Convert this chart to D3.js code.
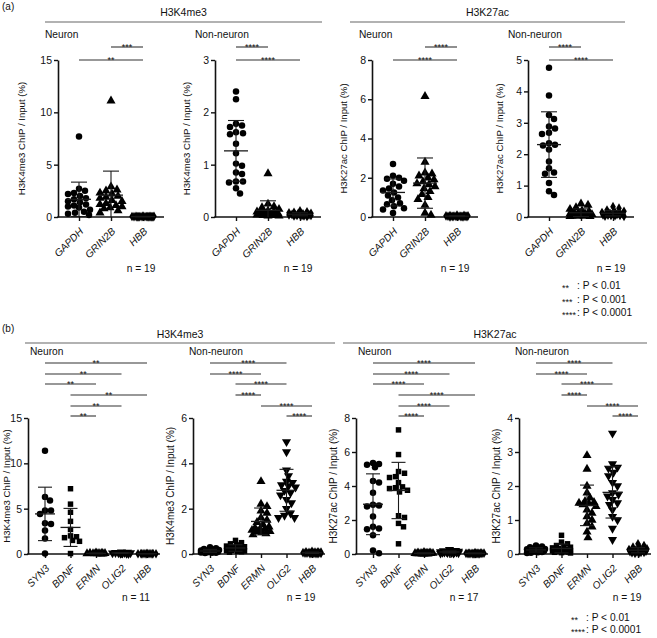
<!DOCTYPE html>
<html><head><meta charset="utf-8">
<script src="https://cdn.jsdelivr.net/npm/d3@7"></script>
<style>
body{margin:0;background:#fff}
svg{display:block}
text{font-family:"Liberation Sans",Arial,sans-serif;fill:#111}
</style>
</head><body>
<svg id="c" width="657" height="638"></svg>
<script>
// ---------------- data ----------------
const aCats = ["GAPDH", "GRIN2B", "HBB"];
const bCats = ["SYN3", "BDNF", "ERMN", "OLIG2", "HBB"];

const a1Ticks = [0, 5, 10, 15];
const a2Ticks = [0, 1, 2, 3];
const a3Ticks = [0, 2, 4, 6, 8];
const a4Ticks = [0, 1, 2, 3, 4, 5];
const b1Ticks = [0, 5, 10, 15];
const b2Ticks = [0, 2, 4, 6];
const b3Ticks = [0, 2, 4, 6, 8];
const b4Ticks = [0, 1, 2, 3, 4];

// (a) Neuron H3K4me3
const a1GAPDH = [7.7, 2.7, 2.5, 2.3, 2.2, 2.0, 1.8, 1.7, 1.5, 1.4, 1.2, 1.1, 1.0, 0.9, 0.7, 0.5, 0.4, 0.3, 0.2];
const a1GRIN2B = [11.1, 2.9, 2.6, 2.5, 2.3, 2.2, 2.0, 1.9, 1.8, 1.6, 1.5, 1.3, 1.2, 1.1, 1.0, 0.9, 0.8, 0.6, 0.4];
const a1HBB = [0.08, 0.07, 0.06, 0.06, 0.05, 0.05, 0.05, 0.04, 0.04, 0.04, 0.03, 0.03, 0.03, 0.03, 0.02, 0.02, 0.02, 0.01, 0.01];
// (a) Non-neuron H3K4me3
const a2GAPDH = [2.4, 2.25, 1.78, 1.75, 1.72, 1.62, 1.6, 1.58, 1.4, 1.22, 1.02, 0.98, 0.85, 0.82, 0.68, 0.68, 0.66, 0.55, 0.45];
const a2GRIN2B = [0.83, 0.25, 0.2, 0.18, 0.15, 0.12, 0.1, 0.1, 0.08, 0.07, 0.06, 0.05, 0.05, 0.04, 0.04, 0.03, 0.03, 0.02, 0.02];
const a2HBB = [0.12, 0.1, 0.09, 0.08, 0.07, 0.06, 0.06, 0.05, 0.05, 0.05, 0.04, 0.04, 0.04, 0.03, 0.03, 0.03, 0.02, 0.02, 0.01];
// (a) Neuron H3K27ac
const a3GAPDH = [2.7, 2.1, 2.0, 1.95, 1.85, 1.7, 1.55, 1.45, 1.35, 1.25, 1.1, 1.0, 0.85, 0.7, 0.65, 0.55, 0.45, 0.38, 0.2];
const a3GRIN2B = [6.15, 2.8, 2.25, 2.2, 2.1, 2.0, 1.9, 1.8, 1.7, 1.65, 1.55, 1.45, 1.3, 1.15, 1.0, 0.9, 0.6, 0.2, 0.1];
const a3HBB = [0.1, 0.08, 0.07, 0.06, 0.06, 0.05, 0.05, 0.05, 0.04, 0.04, 0.04, 0.03, 0.03, 0.03, 0.02, 0.02, 0.02, 0.01, 0.01];
// (a) Non-neuron H3K27ac
const a4GAPDH = [4.75, 3.87, 3.25, 3.12, 2.88, 2.82, 2.68, 2.64, 2.35, 2.3, 2.28, 2.15, 1.77, 1.55, 1.42, 1.38, 1.08, 0.82, 0.7];
const a4GRIN2B = [0.42, 0.38, 0.3, 0.25, 0.2, 0.18, 0.15, 0.12, 0.1, 0.1, 0.08, 0.07, 0.06, 0.05, 0.04, 0.03, 0.03, 0.02, 0.02];
const a4HBB = [0.33, 0.28, 0.22, 0.18, 0.16, 0.14, 0.13, 0.12, 0.11, 0.1, 0.09, 0.08, 0.07, 0.06, 0.05, 0.05, 0.04, 0.03, 0.02];

// (b) Neuron H3K4me3 (n = 11)
const b1SYN3 = [11.4, 6.3, 5.9, 4.8, 4.8, 4.4, 3.4, 3.3, 2.6, 1.7, 0.05];
const b1BDNF = [7.2, 5.5, 4.6, 3.6, 2.7, 2.0, 1.9, 1.8, 1.5, 1.4, 0.05];
const b1ERMN = [0.15, 0.12, 0.1, 0.08, 0.07, 0.06, 0.05, 0.04, 0.03, 0.02, 0.02];
const b1OLIG2 = [0.2, 0.18, 0.15, 0.14, 0.12, 0.1, 0.1, 0.08, 0.07, 0.05, 0.04];
const b1HBB = [0.06, 0.05, 0.05, 0.04, 0.04, 0.03, 0.03, 0.03, 0.02, 0.02, 0.01];
// (b) Non-neuron H3K4me3 (n = 19)
const b2SYN3 = [0.3, 0.25, 0.22, 0.2, 0.18, 0.16, 0.15, 0.14, 0.13, 0.12, 0.11, 0.1, 0.1, 0.09, 0.08, 0.07, 0.06, 0.05, 0.04];
const b2BDNF = [0.6, 0.5, 0.45, 0.4, 0.35, 0.32, 0.3, 0.28, 0.26, 0.24, 0.22, 0.2, 0.18, 0.16, 0.15, 0.13, 0.12, 0.1, 0.08];
const b2ERMN = [3.2, 2.2, 2.1, 1.9, 1.8, 1.6, 1.5, 1.4, 1.3, 1.2, 1.15, 1.1, 1.1, 1.05, 1.0, 1.0, 0.95, 0.9, 0.85];
const b2OLIG2 = [4.95, 4.5, 3.7, 3.45, 3.2, 3.15, 3.05, 3.0, 2.95, 2.8, 2.7, 2.6, 2.4, 2.25, 2.0, 1.8, 1.7, 1.6, 1.6];
const b2HBB = [0.12, 0.1, 0.09, 0.08, 0.08, 0.07, 0.06, 0.06, 0.05, 0.05, 0.05, 0.04, 0.04, 0.03, 0.03, 0.03, 0.02, 0.02, 0.01];
// (b) Neuron H3K27ac (n = 17)
const b3SYN3 = [5.35, 5.3, 5.25, 5.1, 4.3, 4.2, 3.6, 2.9, 2.85, 2.8, 2.2, 1.6, 1.5, 1.45, 1.1, 0.2, 0.05];
const b3BDNF = [7.3, 5.85, 4.85, 4.75, 4.55, 4.5, 4.2, 3.95, 3.9, 3.85, 3.75, 3.65, 2.25, 2.15, 1.8, 1.6, 0.6];
const b3ERMN = [0.1, 0.08, 0.07, 0.06, 0.05, 0.05, 0.04, 0.04, 0.03, 0.03, 0.03, 0.02, 0.02, 0.02, 0.01, 0.01, 0.01];
const b3OLIG2 = [0.25, 0.2, 0.18, 0.16, 0.15, 0.14, 0.13, 0.12, 0.11, 0.1, 0.1, 0.09, 0.08, 0.07, 0.06, 0.05, 0.04];
const b3HBB = [0.08, 0.07, 0.06, 0.05, 0.05, 0.04, 0.04, 0.04, 0.03, 0.03, 0.03, 0.02, 0.02, 0.02, 0.01, 0.01, 0.01];
// (b) Non-neuron H3K27ac (n = 19)
const b4SYN3 = [0.25, 0.22, 0.2, 0.18, 0.16, 0.15, 0.14, 0.13, 0.12, 0.11, 0.1, 0.1, 0.09, 0.08, 0.07, 0.06, 0.05, 0.04, 0.03];
const b4BDNF = [0.55, 0.35, 0.3, 0.25, 0.22, 0.2, 0.18, 0.16, 0.14, 0.12, 0.11, 0.1, 0.09, 0.08, 0.07, 0.06, 0.05, 0.04, 0.03];
const b4ERMN = [2.9, 2.5, 2.0, 1.8, 1.65, 1.55, 1.52, 1.5, 1.48, 1.45, 1.4, 1.3, 1.2, 1.1, 1.0, 0.9, 0.8, 0.65, 0.48];
const b4OLIG2 = [3.55, 2.65, 2.55, 2.52, 2.4, 2.3, 2.1, 2.0, 1.8, 1.75, 1.7, 1.6, 1.5, 1.45, 1.3, 1.1, 1.0, 0.75, 0.42];
const b4HBB = [0.3, 0.25, 0.2, 0.18, 0.15, 0.13, 0.12, 0.11, 0.1, 0.09, 0.08, 0.08, 0.07, 0.06, 0.05, 0.05, 0.04, 0.03, 0.02];

const aSig = [["GRIN2B", "HBB", "***"], ["GAPDH", "HBB", "**"]];
const aSig4 = [["GAPDH", "GRIN2B", "****"], ["GAPDH", "HBB", "****"]];
const aSig3 = [["GRIN2B", "HBB", "****"], ["GAPDH", "HBB", "****"]];
const bSigN1 = [["SYN3", "HBB", "**"], ["SYN3", "OLIG2", "**"], ["SYN3", "ERMN", "**"], ["BDNF", "HBB", "**"], ["BDNF", "OLIG2", "**"], ["BDNF", "ERMN", "**"]];
const bSigNN = [["SYN3", "OLIG2", "****"], ["SYN3", "ERMN", "****"], ["BDNF", "OLIG2", "****"], ["BDNF", "ERMN", "****"], ["ERMN", "HBB", "****"], ["OLIG2", "HBB", "****"]];
const bSigN3 = [["SYN3", "HBB", "****"], ["SYN3", "OLIG2", "****"], ["SYN3", "ERMN", "****"], ["BDNF", "HBB", "****"], ["BDNF", "OLIG2", "****"], ["BDNF", "ERMN", "****"]];

// ---------------- layout ----------------
const svg = d3.select("#c");
svg.append("rect").attr("width", 657).attr("height", 638).attr("fill", "#fff");

const symA = [d3.symbolCircle, d3.symbolTriangle, d3.symbolDiamond];
const symB = [d3.symbolCircle, d3.symbolSquare, d3.symbolTriangle, "down", d3.symbolDiamond];

const panels = [
  {x0: 58, top: 60, bot: 217, cats: aCats, data: [a1GAPDH, a1GRIN2B, a1HBB], ticks: a1Ticks, lab: "H3K4me3 ChIP / Input (%)", sub: "Neuron", n: "n = 19", sig: aSig, sigY: [47, 60], kind: "a"},
  {x0: 215, top: 60, bot: 217, cats: aCats, data: [a2GAPDH, a2GRIN2B, a2HBB], ticks: a2Ticks, lab: "H3K4me3 ChIP / Input (%)", sub: "Non-neuron", n: "n = 19", sig: aSig4, sigY: [47, 60], kind: "a"},
  {x0: 372, top: 60, bot: 217, cats: aCats, data: [a3GAPDH, a3GRIN2B, a3HBB], ticks: a3Ticks, lab: "H3K27ac ChIP / Input (%)", sub: "Neuron", n: "n = 19", sig: aSig3, sigY: [47, 60], kind: "a"},
  {x0: 528, top: 60, bot: 217, cats: aCats, data: [a4GAPDH, a4GRIN2B, a4HBB], ticks: a4Ticks, lab: "H3K27ac ChIP / Input (%)", sub: "Non-neuron", n: "n = 19", sig: aSig4, sigY: [47, 60], kind: "a"},
  {x0: 28, top: 418, bot: 554, cats: bCats, data: [b1SYN3, b1BDNF, b1ERMN, b1OLIG2, b1HBB], ticks: b1Ticks, lab: "H3K4me3 ChIP / Input (%)", sub: "Neuron", n: "n = 11", sig: bSigN1, sigY: [363, 374, 384, 395, 406, 416], kind: "b"},
  {x0: 193, top: 418, bot: 554, cats: bCats, data: [b2SYN3, b2BDNF, b2ERMN, b2OLIG2, b2HBB], ticks: b2Ticks, lab: "H3K4me3 ChIP / Input (%)", sub: "Non-neuron", n: "n = 19", sig: bSigNN, sigY: [363, 374, 384, 395, 406, 416], kind: "b"},
  {x0: 356, top: 418, bot: 554, cats: bCats, data: [b3SYN3, b3BDNF, b3ERMN, b3OLIG2, b3HBB], ticks: b3Ticks, lab: "H3K27ac ChIP / Input (%)", sub: "Neuron", n: "n = 17", sig: bSigN3, sigY: [363, 374, 384, 395, 406, 416], kind: "b"},
  {x0: 519, top: 418, bot: 554, cats: bCats, data: [b4SYN3, b4BDNF, b4ERMN, b4OLIG2, b4HBB], ticks: b4Ticks, lab: "H3K27ac ChIP / Input (%)", sub: "Non-neuron", n: "n = 19", sig: bSigNN, sigY: [363, 374, 384, 395, 406, 416], kind: "b"}
];

function swarm(vals, y, cx, r, maxOff) {
  const pts = vals.map(v => ({v: v, py: y(v)})).sort((a, b) => a.py - b.py);
  const placed = [];
  for (const p of pts) {
    let best = null, alt = cx, altD = -1;
    for (let k = 0; k <= 2 * maxOff; k++) {
      const off = (k % 2 ? 1 : -1) * Math.ceil(k / 2);
      const px = cx + off;
      let minD = Infinity;
      for (const q of placed) { const d = Math.hypot(q.px - px, q.py - p.py); if (d < minD) minD = d; }
      if (minD >= 2 * r) { best = px; break; }
      if (minD > altD) { altD = minD; alt = px; }
    }
    p.px = best !== null ? best : alt;
    placed.push(p);
  }
  return placed;
}

panels.forEach(P => {
  const isA = P.kind === "a";
  const g = svg.append("g");
  const ymax = P.ticks[P.ticks.length - 1];
  const y = d3.scaleLinear().domain([0, ymax]).range([P.bot, P.top]);
  const x = d3.scalePoint().domain(P.cats).range(isA ? [P.x0 + 21, P.x0 + 85] : [P.x0 + 17, P.x0 + 119]);
  const xEnd = isA ? P.x0 + 106 : P.x0 + 132;

  // y axis
  const ya = g.append("g").attr("transform", `translate(${P.x0},0)`)
    .call(d3.axisLeft(y).tickValues(P.ticks).tickSize(4).tickSizeOuter(0).tickPadding(2).tickFormat(d3.format("d")));
  ya.select(".domain").attr("stroke", "#111").attr("stroke-width", 1.6);
  ya.selectAll(".tick line").attr("stroke", "#111").attr("stroke-width", 1.4);
  ya.selectAll(".tick text").attr("font-size", 10.5).attr("fill", "#222").style("font-family", '"Liberation Sans",Arial,sans-serif');

  // x axis
  const xa = g.append("g").attr("transform", `translate(0,${P.bot})`)
    .call(d3.axisBottom(x).tickSize(4).tickSizeOuter(0).tickFormat(""));
  xa.select(".domain").remove();
  xa.selectAll(".tick line").attr("stroke", "#111").attr("stroke-width", 1.4);
  g.append("line").attr("x1", P.x0 - 0.8).attr("x2", xEnd).attr("y1", P.bot).attr("y2", P.bot)
    .attr("stroke", "#111").attr("stroke-width", 1.6);

  // x labels
  P.cats.forEach(c => {
    g.append("text").attr("transform", `translate(${x(c) + 5},${P.bot + 15}) rotate(-45)`)
      .attr("text-anchor", "end").attr("font-size", 10.2).attr("font-style", "italic").attr("fill", "#222").text(c);
  });

  // y label
  const twoDigit = ymax >= 10;
  const lx = P.x0 - (isA ? (twoDigit ? 33 : 25) : (twoDigit ? 18 : 19));
  g.append("text").attr("transform", `translate(${lx},${(P.top + P.bot) / 2}) rotate(-90)`)
    .attr("text-anchor", "middle").attr("font-size", isA ? 9.6 : (twoDigit ? 9.6 : 10)).attr("fill", "#222").text(P.lab);

  // subtitle
  const subX = isA ? P.x0 - 13 - (P.sub === "Non-neuron" ? 7 : 0) : P.x0 + 2 - (P.sub === "Non-neuron" ? 6 : 0);
  g.append("text").attr("x", subX).attr("y", isA ? 38 : 355).attr("font-size", 10.2).attr("fill", "#222").text(P.sub);

  // n label
  g.append("text").attr("x", P.x0 + (isA ? 83 : 108)).attr("y", isA ? 272 : 601)
    .attr("text-anchor", "middle").attr("font-size", 10.2).attr("fill", "#222").text(P.n);

  // significance bars
  P.sig.forEach((s, i) => {
    const yy = P.sigY[i];
    const x1 = x(s[0]), x2 = x(s[1]);
    g.append("line").attr("x1", x1).attr("x2", x2).attr("y1", yy).attr("y2", yy)
      .attr("stroke", "#333").attr("stroke-width", 1.1);
    g.append("text").attr("x", (x1 + x2) / 2).attr("y", yy + 2.5).attr("text-anchor", "middle")
      .attr("font-size", 9).attr("fill", "#222").text(s[2]);
  });

  // data
  const syms = isA ? symA : symB;
  P.data.forEach((vals, i) => {
    const c = P.cats[i];
    const cx = x(c);
    const r = isA ? 3.1 : 2.9;
    const pts = swarm(vals, y, cx, r, isA ? 11 : 9);
    const st = syms[i];
    const down = st === "down";
    const sym = d3.symbol().type(down ? d3.symbolTriangle : st)
      .size(st === d3.symbolCircle ? 33 : (st === d3.symbolSquare ? 30 : (st === d3.symbolDiamond ? 27 : 36)));
    g.selectAll(null).data(pts).enter().append("path")
      .attr("d", sym)
      .attr("transform", d => `translate(${d.px},${d.py})${down ? " rotate(180)" : ""}`)
      .attr("fill", "#000");

    // mean ± SD
    const m = d3.mean(vals), sd = d3.deviation(vals);
    const hw = isA ? 12 : 10, cw = isA ? 8 : 7;
    const ec = "#1a1a1a";
    g.append("line").attr("x1", cx).attr("x2", cx).attr("y1", y(m + sd)).attr("y2", y(Math.max(0, m - sd)))
      .attr("stroke", ec).attr("stroke-width", 1.1);
    g.append("line").attr("x1", cx - hw).attr("x2", cx + hw).attr("y1", y(m)).attr("y2", y(m))
      .attr("stroke", ec).attr("stroke-width", 1.3);
    [m + sd, m - sd].forEach(v => {
      if (v > 0) g.append("line").attr("x1", cx - cw).attr("x2", cx + cw).attr("y1", y(v)).attr("y2", y(v))
        .attr("stroke", ec).attr("stroke-width", 1.1);
    });
  });
});

// headers
function header(txt, x1, x2, yT, yL) {
  svg.append("text").attr("x", (x1 + x2) / 2).attr("y", yT).attr("text-anchor", "middle").attr("font-size", 10.5).attr("fill", "#222").text(txt);
  svg.append("line").attr("x1", x1).attr("x2", x2).attr("y1", yL).attr("y2", yL).attr("stroke", "#666").attr("stroke-width", 1.2);
}
header("H3K4me3", 45, 322, 16, 22);
header("H3K27ac", 350, 625, 16, 22);
header("H3K4me3", 25, 335, 338, 343);
header("H3K27ac", 343, 647, 338, 343);

svg.append("text").attr("x", 2).attr("y", 10).attr("font-size", 10).attr("fill", "#222").text("(a)");
svg.append("text").attr("x", 2).attr("y", 332).attr("font-size", 10).attr("fill", "#222").text("(b)");

// legends
const legA = [["**", ": P < 0.01"], ["***", ": P < 0.001"], ["****", ": P < 0.0001"]];
legA.forEach((l, i) => {
  svg.append("text").attr("x", 562).attr("y", 291 + i * 13.5).attr("font-size", 9).attr("fill", "#222").text(l[0]);
  svg.append("text").attr("x", 577).attr("y", 289 + i * 13.5).attr("font-size", 10.2).attr("fill", "#222").text(l[1]);
});
const legB = [["**", ": P < 0.01"], ["****", ": P < 0.0001"]];
legB.forEach((l, i) => {
  svg.append("text").attr("x", 571).attr("y", 623 + i * 12).attr("font-size", 9).attr("fill", "#222").text(l[0]);
  svg.append("text").attr("x", 586).attr("y", 621 + i * 12).attr("font-size", 10.2).attr("fill", "#222").text(l[1]);
});
</script>
</body></html>
